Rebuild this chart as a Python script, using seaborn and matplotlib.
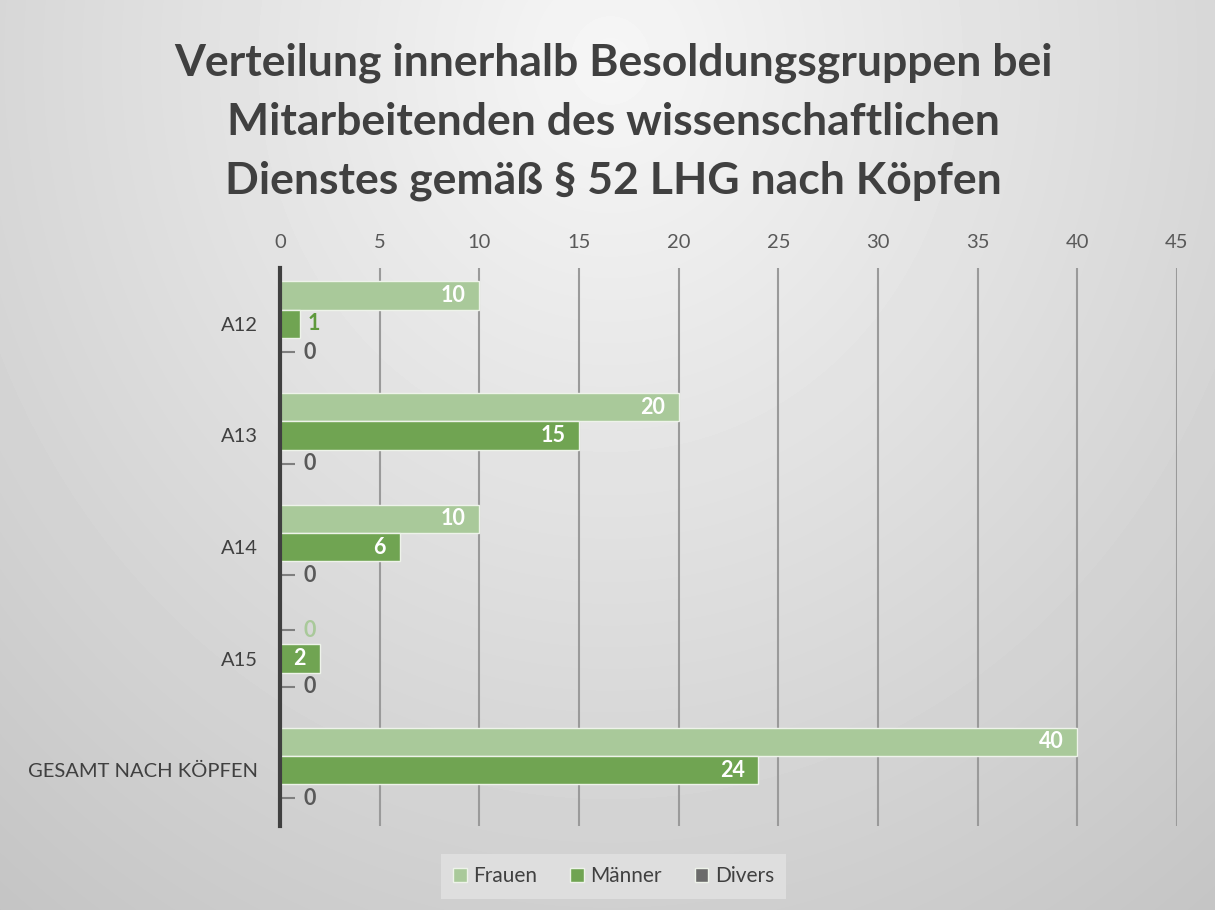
import numpy as np
import pandas as pd
import matplotlib
matplotlib.use('Agg')
import matplotlib.pyplot as plt
import seaborn as sns

# data
categories = ['A12', 'A13', 'A14', 'A15', 'GESAMT NACH KÖPFEN']
frauen = [10, 20, 10, 0, 40]
maenner = [1, 15, 6, 2, 24]
divers = [0, 0, 0, 0, 0]
series_names = ['Frauen', 'Männer', 'Divers']
x_ticks = list(range(0, 50, 5))
title = ('Verteilung innerhalb Besoldungsgruppen bei\n'
         'Mitarbeitenden des wissenschaftlichen\n'
         'Dienstes gemäß § 52 LHG nach Köpfen')

colors = {'Frauen': '#a9c99a', 'Männer': '#70a452', 'Divers': '#6b6b6b'}
outside_colors = {'Frauen': '#a9c99a', 'Männer': '#5f9a3c', 'Divers': '#595959'}

df = pd.DataFrame({
    'Gruppe': categories * 3,
    'Geschlecht': [s for s in series_names for _ in categories],
    'Anzahl': frauen + maenner + divers,
})

sns.set_style('white')
plt.rcParams['font.family'] = ['Lato', 'DejaVu Sans']

fig = plt.figure(figsize=(12.15, 9.1), dpi=100)

# radial grey background
bg = fig.add_axes([0, 0, 1, 1], zorder=-10)
yy, xx = np.mgrid[0:910, 0:1215]
r = np.sqrt(((xx - 610) / 900) ** 2 + ((yy - 60) / 1000) ** 2)
shade = np.clip(0.965 - 0.18 * r, 0, 1)
bg.imshow(shade, cmap='gray', vmin=0, vmax=1, aspect='auto')
bg.axis('off')

ax = fig.add_axes([0.2305, 0.0923, 0.7382, 0.6132])
ax.set_facecolor('none')
sns.barplot(data=df, y='Gruppe', x='Anzahl', hue='Geschlecht', palette=colors,
            orient='h', ax=ax, edgecolor='#eef3ea', linewidth=1, width=0.76,
            saturation=1)

handles, labels = ax.get_legend_handles_labels()
ax.get_legend().remove()

values = [frauen, maenner, divers]
for container, name, vals in zip(ax.containers, series_names, values):
    for bar, val in zip(container, vals):
        yc = bar.get_y() + bar.get_height() / 2
        if val == 0:
            ax.hlines(yc, val, val + 0.75, color='#7f7f7f', linewidth=1.5)
            ax.annotate(str(val), xy=(val, yc), xytext=(17, 0), textcoords='offset points',
                        ha='left', va='center', fontsize=15.5, fontweight='bold',
                        color=outside_colors[name])
        elif val < 2:
            ax.annotate(str(val), xy=(val, yc), xytext=(5.5, 0), textcoords='offset points',
                        ha='left', va='center', fontsize=15.5, fontweight='bold',
                        color=outside_colors[name])
        else:
            ax.annotate(str(val), xy=(val, yc), xytext=(-10, 0), textcoords='offset points',
                        ha='right', va='center', fontsize=15.5, fontweight='bold',
                        color='white')

ax.set_xlim(0, 45)
ax.set_ylim(len(categories) - 0.5, -0.5)
ax.set_xticks(x_ticks)
ax.xaxis.tick_top()
ax.tick_params(axis='x', length=0, labelsize=14.5, labelcolor='#595959', pad=12)
ax.tick_params(axis='y', length=0, labelsize=14.5, labelcolor='#404040', pad=16)
ax.grid(axis='x', color='#9a9a9a', linewidth=1.5)
ax.set_axisbelow(True)
for s in ['top', 'right', 'bottom']:
    ax.spines[s].set_visible(False)
ax.spines['left'].set_color('#404040')
ax.spines['left'].set_linewidth(3)
ax.set_xlabel('')
ax.set_ylabel('')

fig.text(0.505, 0.866, title, ha='center', va='center', fontsize=32,
         fontweight='bold', color='#404040', linespacing=1.56)

leg = fig.legend(handles, labels, loc='center', bbox_to_anchor=(0.505, 0.037), ncol=3,
                 frameon=True, facecolor='#dedede', edgecolor='none', fontsize=15,
                 handlelength=0.65, handleheight=0.65, handletextpad=0.3, columnspacing=1.6,
                 borderpad=0.6, fancybox=False, labelcolor='#404040')
leg.get_frame().set_alpha(1)

fig.savefig('out.png', dpi=100)
